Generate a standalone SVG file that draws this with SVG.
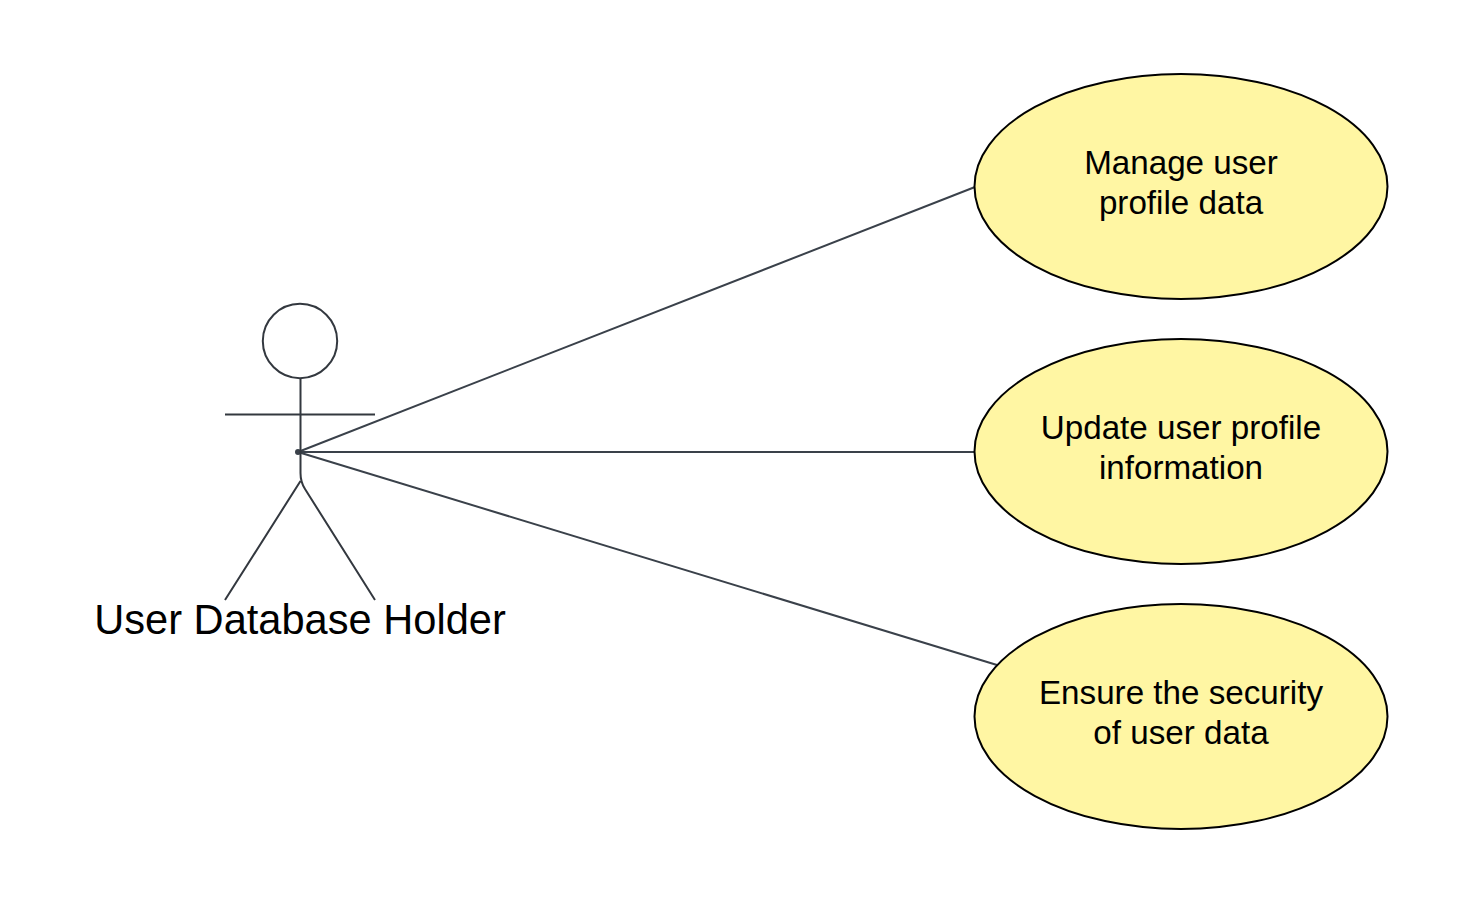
<svg xmlns="http://www.w3.org/2000/svg" width="1463" height="906" viewBox="0 0 1463 906">
<style>
.uc{fill:#fff6a3;stroke:#000;stroke-width:2}
.a{fill:none;stroke:#33383f;stroke-width:2}
.t{font-family:"Liberation Sans",Arial,sans-serif;font-size:33.2px;fill:#000;text-anchor:middle}
.l{font-family:"Liberation Sans",Arial,sans-serif;font-size:41.6px;fill:#000;text-anchor:middle}
</style>
<rect width="1463" height="906" fill="#fff"/>
<g id="connectors" fill="none" stroke="#3a414a" stroke-width="2">
<path d="M298 452L975 187"/>
<path d="M298 452L975 452"/>
<path d="M298 452L997 665"/>
<circle cx="298" cy="452" r="3" fill="#3a414a" stroke="none"/>
</g>
<g id="actor">
<circle class="a" cx="300" cy="341" r="37.2"/>
<path class="a" d="M300.500 378V473Q300.500 482 305 489L375 600M225 414.500H375M225 600L300.500 481"/>
<text class="l" x="300" y="634">User Database Holder</text>
</g>
<g id="uc1">
<ellipse class="uc" cx="1181" cy="186.500" rx="206.500" ry="112.500"/>
<text class="t" x="1181" y="174">Manage user</text>
<text class="t" x="1181" y="214">profile data</text>
</g>
<g id="uc2">
<ellipse class="uc" cx="1181" cy="451.500" rx="206.500" ry="112.500"/>
<text class="t" x="1181" y="439">Update user profile</text>
<text class="t" x="1181" y="479">information</text>
</g>
<g id="uc3">
<ellipse class="uc" cx="1181" cy="716.500" rx="206.500" ry="112.500"/>
<text class="t" x="1181" y="704">Ensure the security</text>
<text class="t" x="1181" y="744">of user data</text>
</g>
</svg>
